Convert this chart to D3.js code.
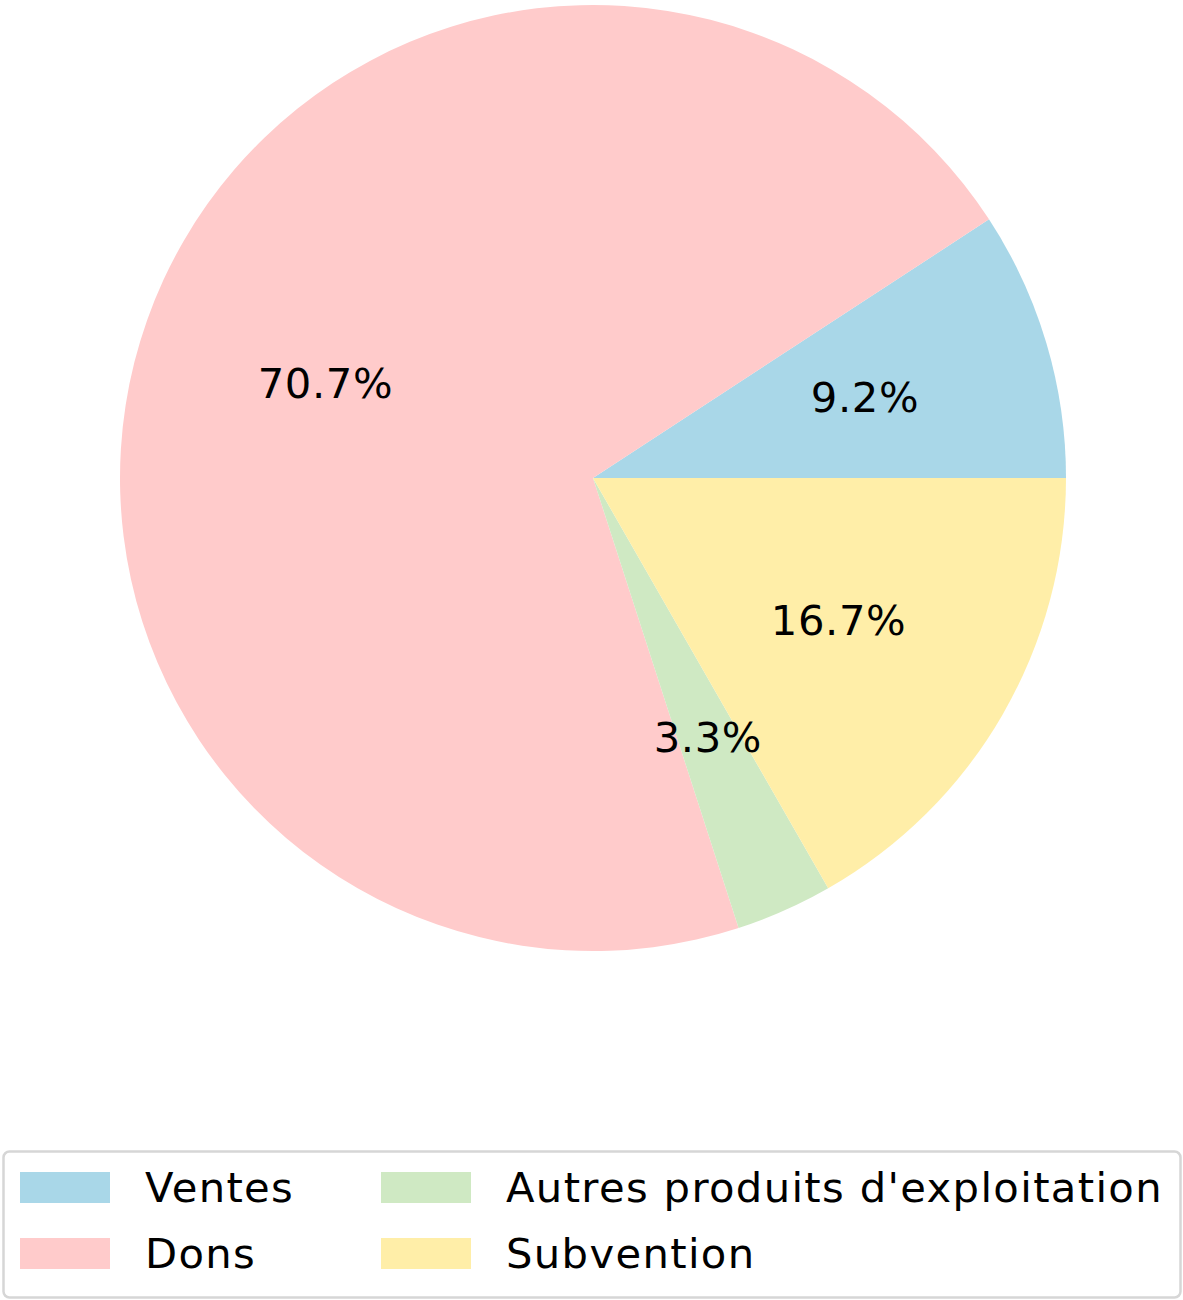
<!DOCTYPE html>
<html>
<head>
<meta charset="utf-8">
<script src="https://cdn.jsdelivr.net/npm/d3@7"></script>
<style>
  html, body { margin: 0; padding: 0; background: #fff; }
  svg { display: block; }
  text { font-family: "DejaVu Sans", sans-serif; fill: #000; }
</style>
</head>
<body>
<svg id="chart"></svg>
<script>
// chart data
const categories = ["Ventes", "Dons", "Autres produits d'exploitation", "Subvention"];
const shares = [9.2, 70.7, 3.3, 16.7];
const colors = ["#a9d7e8", "#ffcbcb", "#cfe9c3", "#ffeea8"];

// legend order (two columns, filled column by column)
const legendOrder = [0, 1, 2, 3];

const width = 1183, height = 1300;
const cx = 593, cy = 478, radius = 473;
const fontSize = 41.7;

const svg = d3.select("#chart")
	.attr("width", width)
	.attr("height", height);

const rows = categories.map((c, i) => ({ label: c, value: shares[i], color: colors[i] }));

// matplotlib style: start at 3 o'clock, go counterclockwise
const pie = d3.pie()
	.sort(null)
	.value(d => d.value)
	.startAngle(Math.PI / 2)
	.endAngle(Math.PI / 2 - 2 * Math.PI);

const arc = d3.arc()
	.innerRadius(0)
	.outerRadius(radius);

const labelArc = d3.arc()
	.innerRadius(radius * 0.6)
	.outerRadius(radius * 0.6);

const g = svg.append("g")
	.attr("transform", "translate(" + cx + "," + cy + ")");

const arcs = pie(rows);

g.selectAll("path")
	.data(arcs)
	.join("path")
	.attr("d", arc)
	.attr("fill", d => d.data.color);

g.selectAll("text")
	.data(arcs)
	.join("text")
	.attr("transform", d => "translate(" + labelArc.centroid(d) + ")")
	.attr("text-anchor", "middle")
	.attr("dominant-baseline", "central")
	.style("font-size", fontSize + "px")
	.style("letter-spacing", "0.6px")
	.text(d => d3.format(".1f")(d.data.value) + "%");

// legend
const legend = svg.append("g");
legend.append("rect")
	.attr("x", 3.5)
	.attr("y", 1151.5)
	.attr("width", 1177)
	.attr("height", 146)
	.attr("rx", 6)
	.attr("fill", "#fff")
	.attr("stroke", "#d6d6d6")
	.attr("stroke-width", 2.5);

const colX = [20, 381];
const rowY = [1172, 1238];
const patchW = 90, patchH = 31;

const items = legend.selectAll("g.item")
	.data(legendOrder.map(i => rows[i]))
	.join("g")
	.attr("class", "item")
	.attr("transform", (d, i) => "translate(" + colX[Math.floor(i / 2)] + "," + rowY[i % 2] + ")");

items.append("rect")
	.attr("width", patchW)
	.attr("height", patchH)
	.attr("fill", d => d.color);

items.append("text")
	.attr("x", 125)
	.attr("y", patchH / 2)
	.attr("dominant-baseline", "central")
	.style("font-size", fontSize + "px")
	.style("letter-spacing", "1.35px")
	.text(d => d.label);
</script>
</body>
</html>
